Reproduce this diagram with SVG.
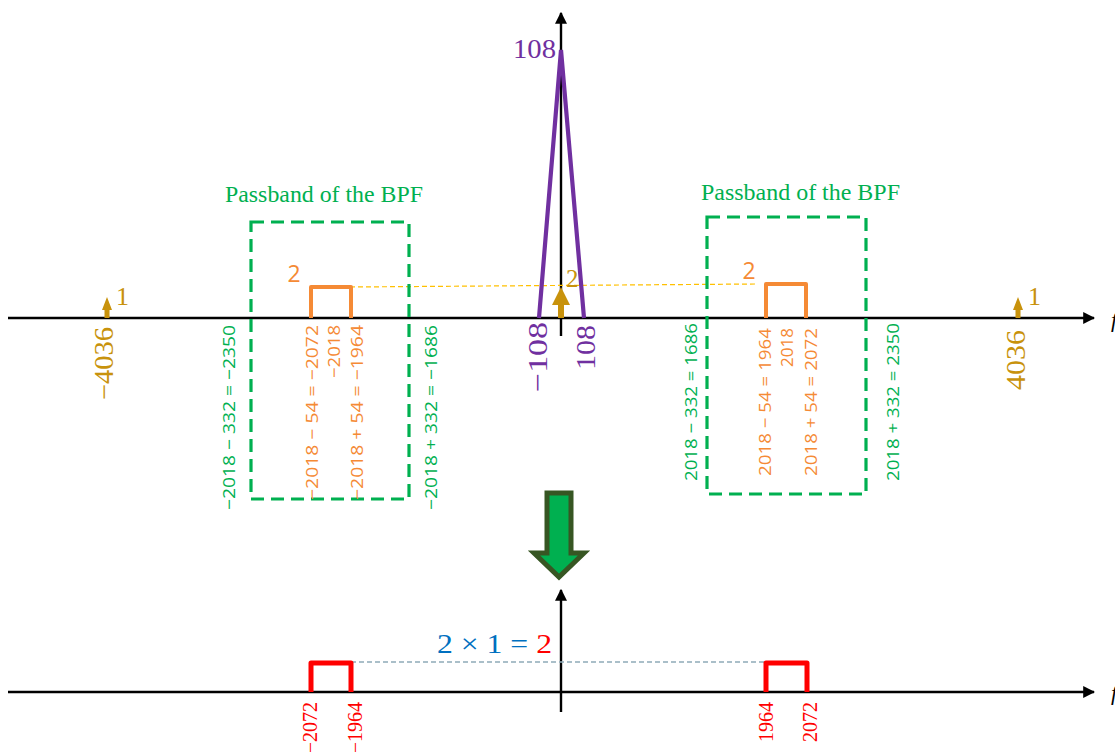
<svg xmlns="http://www.w3.org/2000/svg" width="1115" height="752" viewBox="0 0 1115 752">
  <defs>
    <marker id="ah" viewBox="0 0 10 10" refX="9" refY="5" markerWidth="5" markerHeight="5" markerUnits="strokeWidth" orient="auto">
      <path d="M0,0 L10,5 L0,10 z" fill="#000"/>
    </marker>
    <style>
      .axis{stroke:#000;stroke-width:2.4;fill:none}
      .band{fill:none;stroke:#00B050;stroke-width:3.2;stroke-dasharray:13 7}
      .sq-o{fill:none;stroke:#F58A35;stroke-width:4;stroke-linejoin:round}
      .sq-r{fill:none;stroke:#FF0000;stroke-width:5;stroke-linejoin:round}
      .serif{font-family:"Liberation Serif","DejaVu Serif",serif}
      .sans{font-family:"Open Sans","Liberation Sans",sans-serif}
      .lbl{font-size:17px}
      .rl{font-size:20px}
      .g{fill:#00B050}
      .o{fill:#F58A35}
      .r{fill:#FF0000}
      .gold{fill:#C8920C}
      .pur{fill:#7030A0}
    </style>
  </defs>

  <!-- axes and guide lines -->
  <g id="connectors">
    <line class="axis" x1="8" y1="318" x2="1094" y2="318" marker-end="url(#ah)"/>
    <line class="axis" x1="561" y1="336" x2="561" y2="13" marker-end="url(#ah)"/>
    <line class="axis" x1="8" y1="692" x2="1094" y2="692" marker-end="url(#ah)"/>
    <line class="axis" x1="561" y1="712" x2="561" y2="590" marker-end="url(#ah)"/>
    <line x1="350" y1="287" x2="756" y2="284" stroke="#FFC000" stroke-width="1.2" stroke-dasharray="5 3"/>
    <line x1="351" y1="662" x2="766" y2="662" stroke="#8FAAB8" stroke-width="1.4" stroke-dasharray="5 3"/>
  </g>
  <text class="serif" x="1111" y="327" font-size="22" font-style="italic">f</text>
  <text class="serif" x="1111" y="700" font-size="22" font-style="italic">f</text>

  <!-- low-pass triangle -->
  <g id="triangle">
    <polyline points="539,318 561,50 584,318" fill="none" stroke="#7030A0" stroke-width="4.2" stroke-linejoin="miter"/>
    <text class="serif pur" x="556" y="58" font-size="28" text-anchor="end" textLength="43" lengthAdjust="spacingAndGlyphs">108</text>
    <text class="serif pur" font-size="28" text-anchor="end" textLength="70" lengthAdjust="spacingAndGlyphs" transform="translate(547,322) rotate(-90)">−108</text>
    <text class="serif pur" font-size="28" text-anchor="end" textLength="45" lengthAdjust="spacingAndGlyphs" transform="translate(595,325) rotate(-90)">108</text>
  </g>

  <!-- impulse at the origin -->
  <g id="impulse-0">
    <polygon points="558,318 558,305 552,305 561,287 570,305 564,305 564,318" class="gold"/>
    <text class="serif gold" x="566" y="287" font-size="25">2</text>
  </g>

  <!-- impulses at ±4036 -->
  <g id="impulse-neg">
    <polygon points="104.5,318 104.5,310 102,310 107,297 112,310 109.5,310 109.5,318" class="gold"/>
    <text class="serif gold" x="116" y="305" font-size="26">1</text>
    <text class="serif gold" font-size="27" text-anchor="end" textLength="73" lengthAdjust="spacingAndGlyphs" transform="translate(113,327) rotate(-90)">−4036</text>
  </g>
  <g id="impulse-pos">
    <polygon points="1015.5,318 1015.5,310 1013,310 1018,297 1023,310 1020.5,310 1020.5,318" class="gold"/>
    <text class="serif gold" x="1028" y="305" font-size="26">1</text>
    <text class="serif gold" font-size="27" text-anchor="end" textLength="60" lengthAdjust="spacingAndGlyphs" transform="translate(1025,330) rotate(-90)">4036</text>
  </g>

  <!-- left passband -->
  <g id="band-left">
    <text class="serif g" x="225" y="202" font-size="23" textLength="198" lengthAdjust="spacingAndGlyphs">Passband of the BPF</text>
    <rect class="band" x="251" y="222" width="158" height="277"/>
    <polyline class="sq-o" points="311,318 311,287 351,287 351,318"/>
    <text class="sans o" x="294" y="282" font-size="23" text-anchor="middle">2</text>
    <text class="sans g lbl" text-anchor="end" textLength="185" lengthAdjust="spacingAndGlyphs" transform="translate(235,325) rotate(-90)">−2018 − 332 = −2350</text>
    <text class="sans o lbl" text-anchor="end" textLength="175" lengthAdjust="spacingAndGlyphs" transform="translate(318,325) rotate(-90)">−2018 − 54 = −2072</text>
    <text class="sans o lbl" text-anchor="end" textLength="53" lengthAdjust="spacingAndGlyphs" transform="translate(340,325) rotate(-90)">−2018</text>
    <text class="sans o lbl" text-anchor="end" textLength="175" lengthAdjust="spacingAndGlyphs" transform="translate(363,325) rotate(-90)">−2018 + 54 = −1964</text>
    <text class="sans g lbl" text-anchor="end" textLength="185" lengthAdjust="spacingAndGlyphs" transform="translate(437,325) rotate(-90)">−2018 + 332 = −1686</text>
  </g>

  <!-- right passband -->
  <g id="band-right">
    <text class="serif g" x="701" y="200" font-size="23" textLength="199" lengthAdjust="spacingAndGlyphs">Passband of the BPF</text>
    <rect class="band" x="707" y="217" width="159" height="277"/>
    <polyline class="sq-o" points="766,318 766,284 806,284 806,318"/>
    <text class="sans o" x="749" y="279" font-size="23" text-anchor="middle">2</text>
    <text class="sans g lbl" text-anchor="end" textLength="158" lengthAdjust="spacingAndGlyphs" transform="translate(697,323) rotate(-90)">2018 − 332 = 1686</text>
    <text class="sans o lbl" text-anchor="end" textLength="148" lengthAdjust="spacingAndGlyphs" transform="translate(771,328) rotate(-90)">2018 − 54 = 1964</text>
    <text class="sans o lbl" text-anchor="end" textLength="39" lengthAdjust="spacingAndGlyphs" transform="translate(793,328) rotate(-90)">2018</text>
    <text class="sans o lbl" text-anchor="end" textLength="148" lengthAdjust="spacingAndGlyphs" transform="translate(817,328) rotate(-90)">2018 + 54 = 2072</text>
    <text class="sans g lbl" text-anchor="end" textLength="158" lengthAdjust="spacingAndGlyphs" transform="translate(899,323) rotate(-90)">2018 + 332 = 2350</text>
  </g>

  <!-- transition arrow -->
  <g id="down-arrow">
    <polygon points="547,493 571,493 571,553 584,553 559,577 534,553 547,553" fill="#00B050" stroke="#375623" stroke-width="5" stroke-linejoin="miter"/>
  </g>

  <!-- filtered output -->
  <g id="output-left">
    <polyline class="sq-r" points="311,692 311,663 351,663 351,692"/>
    <text class="serif r rl" text-anchor="end" transform="translate(317,702) rotate(-90)">−2072</text>
    <text class="serif r rl" text-anchor="end" transform="translate(362,702) rotate(-90)">−1964</text>
  </g>
  <g id="output-right">
    <polyline class="sq-r" points="766,692 766,663 807,663 807,692"/>
    <text class="serif r rl" text-anchor="end" transform="translate(773,702) rotate(-90)">1964</text>
    <text class="serif r rl" text-anchor="end" transform="translate(817,702) rotate(-90)">2072</text>
  </g>
  <g id="output-gain">
    <text class="serif" x="437" y="653" font-size="28" fill="#0070C0" textLength="115" lengthAdjust="spacingAndGlyphs">2 × 1 = <tspan fill="#FF0000">2</tspan></text>
  </g>
</svg>
